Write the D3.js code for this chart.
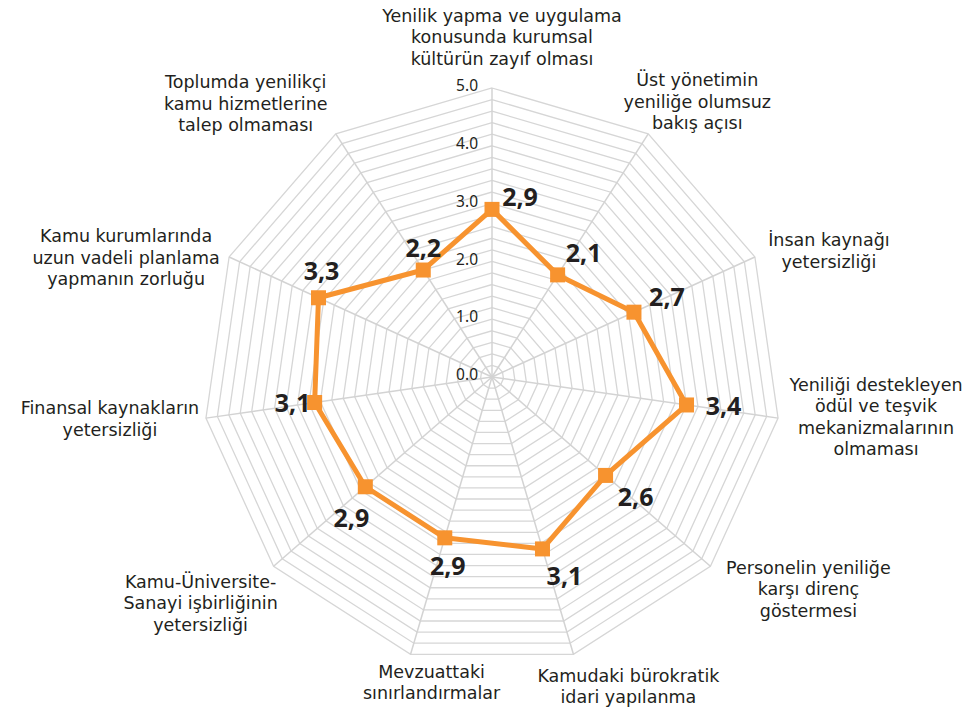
<!DOCTYPE html>
<html>
<head>
<meta charset="utf-8">
<script src="https://cdn.jsdelivr.net/npm/d3@7"></script>
<style>
  html, body { margin: 0; padding: 0; background: #ffffff; }
  svg { display: block; }
  text { font-family: "Noto Sans", "Open Sans", sans-serif; fill: #231f20; }
  text.cat { font-family: "DejaVu Sans", "Noto Sans", sans-serif; }
</style>
</head>
<body>
<svg id="chart" width="975" height="710"></svg>
<script>
// ---- Data ----
const categories = [
  ["Yenilik yapma ve uygulama", "konusunda kurumsal", "kültürün zayıf olması"],
  ["Üst yönetimin", "yeniliğe olumsuz", "bakış açısı"],
  ["İnsan kaynağı", "yetersizliği"],
  ["Yeniliği destekleyen", "ödül ve teşvik", "mekanizmalarının", "olmaması"],
  ["Personelin yeniliğe", "karşı direnç", "göstermesi"],
  ["Kamudaki bürokratik", "idari yapılanma"],
  ["Mevzuattaki", "sınırlandırmalar"],
  ["Kamu-Üniversite-", "Sanayi işbirliğinin", "yetersizliği"],
  ["Finansal kaynakların", "yetersizliği"],
  ["Kamu kurumlarında", "uzun vadeli planlama", "yapmanın zorluğu"],
  ["Toplumda yenilikçi", "kamu hizmetlerine", "talep olmaması"]
];
const values = [2.9, 2.1, 2.7, 3.4, 2.6, 3.1, 2.9, 2.9, 3.1, 3.3, 2.2];
const valueLabels = ["2,9", "2,1", "2,7", "3,4", "2,6", "3,1", "2,9", "2,9", "3,1", "3,3", "2,2"];
const tickValues = [0, 1, 2, 3, 4, 5];
const tickLabels = ["0.0", "1.0", "2.0", "3.0", "4.0", "5.0"];
const gridStep = 0.2;
const maxValue = 5;

// ---- Layout (not data) ----
const cx = 492, cy = 377, R = 289;
// value-label offsets from marker (px)
const valueOffsets = [[28,-13],[26,-23],[33,-16],[37,0],[30,21],[22,26],[3,27],[-14,30],[-22,0],[3,-28],[0,-23]];
// category-label block centres relative to axis end (px)
const catOffsets = [[10,-51],[49,-32],[74,-6],[98,-1],[98,23],[55,32],[21,28],[-73,37],[-96,1],[-103,1],[-90,-30]];
const lineH = 21.5;

const svg = d3.select("#chart");
const n = categories.length;
const angle = d3.scaleLinear().domain([0, n]).range([0, 2 * Math.PI]);
const r = d3.scaleLinear().domain([0, maxValue]).range([0, R]);
const pt = (i, v) => [cx + r(v) * Math.sin(angle(i)), cy - r(v) * Math.cos(angle(i))];

// grid rings
const ringLevels = d3.range(gridStep, maxValue + 1e-9, gridStep);
const ringLine = d3.line();
svg.append("g").selectAll("path").data(ringLevels).join("path")
  .attr("d", lv => ringLine(d3.range(n).map(i => pt(i, lv))) + "Z")
  .attr("fill", "none")
  .attr("stroke", "#d6d6d6")
  .attr("stroke-width", 1.3);

// spokes
svg.append("g").selectAll("line").data(d3.range(n)).join("line")
  .attr("x1", cx).attr("y1", cy)
  .attr("x2", i => pt(i, maxValue)[0]).attr("y2", i => pt(i, maxValue)[1])
  .attr("stroke", "#d3d3d3")
  .attr("stroke-width", 1.5);

// tick labels
svg.append("g").selectAll("text").data(tickValues).join("text")
  .attr("x", cx - 14)
  .attr("y", v => cy - r(v) - 1)
  .attr("text-anchor", "end")
  .attr("dominant-baseline", "middle")
  .attr("font-size", 15.5)
  .text((v, i) => tickLabels[i]);

// data line
const pts = values.map((v, i) => pt(i, v));
svg.append("path")
  .attr("d", d3.line()(pts) + "Z")
  .attr("fill", "none")
  .attr("stroke", "#f7932f")
  .attr("stroke-width", 5)
  .attr("stroke-linejoin", "round");

// markers
const ms = 15;
svg.append("g").selectAll("rect").data(pts).join("rect")
  .attr("x", d => d[0] - ms / 2).attr("y", d => d[1] - ms / 2)
  .attr("width", ms).attr("height", ms)
  .attr("fill", "#f7932f");

// value labels
svg.append("g").selectAll("text").data(pts).join("text")
  .attr("x", (d, i) => d[0] + valueOffsets[i][0])
  .attr("y", (d, i) => d[1] + valueOffsets[i][1])
  .attr("text-anchor", "middle")
  .attr("dominant-baseline", "central")
  .attr("font-size", 25)
  .attr("font-weight", "bold")
  .text((d, i) => valueLabels[i]);

// category labels
const cg = svg.append("g");
categories.forEach((lines, i) => {
  const e = pt(i, maxValue);
  const x = e[0] + catOffsets[i][0];
  const yc = e[1] + catOffsets[i][1];
  const y0 = yc - (lines.length - 1) * lineH / 2;
  const t = cg.append("text")
    .attr("class", "cat")
    .attr("text-anchor", "middle")
    .attr("font-size", 17.5);
  lines.forEach((s, k) => {
    t.append("tspan").attr("x", x).attr("y", y0 + k * lineH)
      .attr("dominant-baseline", "central").text(s);
  });
});
</script>
</body>
</html>
